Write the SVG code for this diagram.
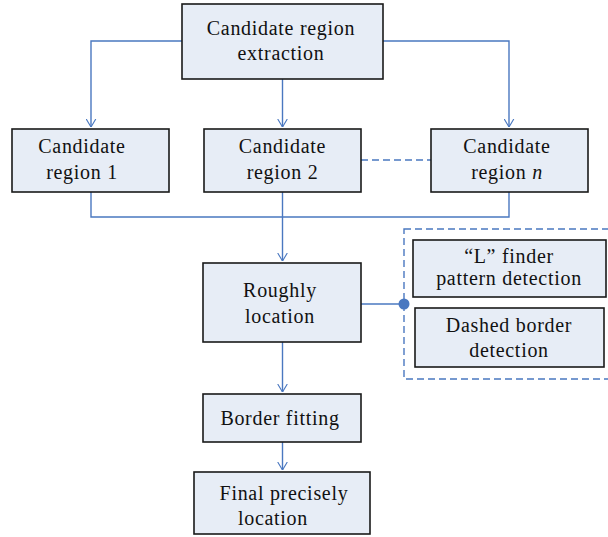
<svg xmlns="http://www.w3.org/2000/svg" width="608" height="537" viewBox="0 0 608 537">
<defs>
<style>
.box{fill:#E7EDF6;stroke:#1a1a1a;stroke-width:1.6}
.t{font-family:"Liberation Serif","Times New Roman",serif;font-size:20px;letter-spacing:0.7px;fill:#111;text-anchor:middle}
.c{fill:none;stroke:#4A78C0;stroke-width:1.4}
.d{fill:none;stroke:#4A78C0;stroke-width:1.4;stroke-dasharray:7 4}
</style>
<marker id="ah" markerUnits="userSpaceOnUse" viewBox="0 0 10 12" refX="10" refY="6" markerWidth="8" markerHeight="11" orient="auto">
<path d="M0,0 L10,6 L0,12" fill="none" stroke="#4A78C0" stroke-width="1.4"/>
</marker>
</defs>
<rect width="608" height="537" fill="#fff"/>
<g id="connectors">
<path class="c" d="M182,41 H91 V127" marker-end="url(#ah)"/>
<path class="c" d="M383,41 H509 V127" marker-end="url(#ah)"/>
<path class="c" d="M282.5,79 V127" marker-end="url(#ah)"/>
<path class="d" d="M361,160 H431"/>
<path class="c" d="M91,192 V217 H509 V192"/>
<path class="c" d="M282.5,192 V261" marker-end="url(#ah)"/>
<path class="c" d="M361,304 H404"/>
<circle cx="404" cy="304" r="5.5" fill="#4A78C0"/>
<path class="c" d="M282.5,342 V392" marker-end="url(#ah)"/>
<path class="c" d="M282.5,442 V470" marker-end="url(#ah)"/>
</g>
<g id="n_extract">
<rect class="box" x="182" y="4" width="201" height="75"/>
<text class="t" x="281" y="35">Candidate region</text>
<text class="t" x="281" y="60">extraction</text>
</g>
<g id="n_region1">
<rect class="box" x="12" y="129" width="157" height="63"/>
<text class="t" x="82" y="153">Candidate</text>
<text class="t" x="82" y="179">region 1</text>
</g>
<g id="n_region2">
<rect class="box" x="204" y="129" width="157" height="63"/>
<text class="t" x="282.5" y="153">Candidate</text>
<text class="t" x="282.5" y="179">region 2</text>
</g>
<g id="n_regionn">
<rect class="box" x="431" y="129" width="157" height="63"/>
<text class="t" x="507" y="153">Candidate</text>
<text class="t" x="507" y="179">region <tspan font-style="italic">n</tspan></text>
</g>
<g id="n_rough">
<rect class="box" x="203" y="263" width="158" height="79"/>
<text class="t" x="280" y="297">Roughly</text>
<text class="t" x="280" y="323">location</text>
</g>
<g id="n_group">
<rect class="d" x="404" y="229" width="210" height="150"/>
</g>
<g id="n_lfinder">
<rect class="box" x="413" y="240" width="193" height="57"/>
<text class="t" x="509" y="263">“L” finder</text>
<text class="t" x="509" y="285">pattern detection</text>
</g>
<g id="n_dashed">
<rect class="box" x="415" y="308" width="189" height="59"/>
<text class="t" x="509" y="332">Dashed border</text>
<text class="t" x="509" y="357">detection</text>
</g>
<g id="n_border">
<rect class="box" x="203" y="394" width="158" height="48"/>
<text class="t" x="280" y="425">Border fitting</text>
</g>
<g id="n_final">
<rect class="box" x="194" y="472" width="176" height="62"/>
<text class="t" x="284" y="500">Final precisely</text>
<text class="t" x="273" y="525">location</text>
</g>
</svg>
